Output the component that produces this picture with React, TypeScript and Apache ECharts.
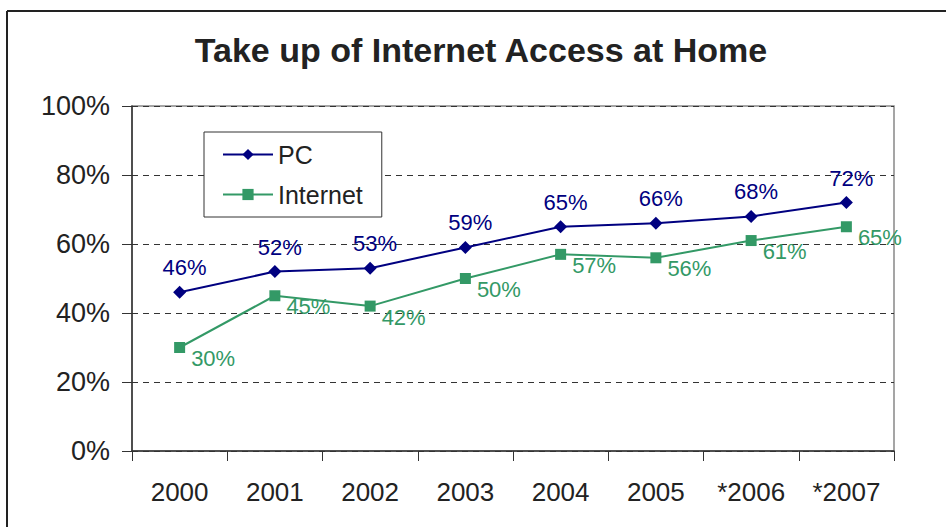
import React, { useEffect, useRef } from "react";
import * as echarts from "echarts";

const categories = ["2000", "2001", "2002", "2003", "2004", "2005", "*2006", "*2007"];
const pcValues = [46, 52, 53, 59, 65, 66, 68, 72];
const internetValues = [30, 45, 42, 50, 57, 56, 61, 65];
const yTicks = [0, 20, 40, 60, 80, 100];

const FONT = "'Liberation Sans', Arial, sans-serif";
const PC_COLOR = "#000080";
const NET_COLOR = "#339966";
const TEXT = "#222222";

export default function App() {
  const ref = useRef<HTMLDivElement>(null);
  useEffect(() => {
    document.body.style.margin = "0";
    const chart = echarts.init(ref.current!, null, { renderer: "svg" });
    chart.setOption({
      animation: false,
      backgroundColor: "#ffffff",
      title: {
        text: "Take up of Internet Access at Home",
        left: 476,
        textAlign: "center",
        top: 28,
        textStyle: { fontFamily: FONT, fontSize: 34, fontWeight: "bold", color: TEXT },
      },
      graphic: [
        { type: "line", shape: { x1: 7, y1: 11, x2: 946, y2: 11 }, style: { stroke: "#222", lineWidth: 2 } },
        { type: "line", shape: { x1: 7, y1: 11, x2: 7, y2: 527 }, style: { stroke: "#222", lineWidth: 2 } },
      ],
      legend: {
        orient: "vertical",
        left: 204,
        top: 132,
        padding: [10, 19, 10, 18],
        itemGap: 15,
        itemWidth: 50,
        itemHeight: 14,
        borderColor: "#333",
        borderWidth: 1,
        backgroundColor: "#fff",
        textStyle: { fontFamily: FONT, fontSize: 25, color: TEXT },
        data: ["PC", "Internet"],
      },
      grid: {
        left: 132,
        right: 52,
        top: 106,
        bottom: 76,
        show: true,
        borderColor: "#888",
        borderWidth: 1.5,
      },
      xAxis: {
        type: "category",
        data: categories,
        boundaryGap: true,
        axisLine: { lineStyle: { color: "#333", width: 1.5 } },
        axisTick: { show: true, length: 10, inside: false, lineStyle: { color: "#333" } },
        axisLabel: { fontFamily: FONT, fontSize: 26, color: TEXT, margin: 28 },
      },
      yAxis: {
        type: "value",
        min: 0,
        max: 100,
        interval: 20,
        axisLine: { show: true, lineStyle: { color: "#333", width: 1.5 } },
        axisTick: { show: true, length: 10, lineStyle: { color: "#333" } },
        axisLabel: {
          fontFamily: FONT,
          fontSize: 27,
          color: TEXT,
          margin: 22,
          formatter: (v: number) => (yTicks.includes(v) ? v + "%" : ""),
        },
        splitLine: { show: true, lineStyle: { color: "#333", type: [6, 5], width: 1 } },
      },
      series: [
        {
          name: "PC",
          type: "line",
          data: pcValues,
          symbol: "diamond",
          symbolSize: 13,
          itemStyle: { color: PC_COLOR },
          lineStyle: { color: PC_COLOR, width: 2 },
          label: {
            show: true,
            position: "top",
            distance: 7,
            offset: [5, 0],
            formatter: "{c}%",
            fontFamily: FONT,
            fontSize: 22,
            color: PC_COLOR,
          },
          z: 3,
        },
        {
          name: "Internet",
          type: "line",
          data: internetValues,
          symbol: "rect",
          symbolSize: 11,
          itemStyle: { color: NET_COLOR },
          lineStyle: { color: NET_COLOR, width: 2 },
          label: {
            show: true,
            position: "right",
            distance: 6,
            offset: [0, 11],
            formatter: "{c}%",
            fontFamily: FONT,
            fontSize: 22,
            color: NET_COLOR,
          },
          z: 2,
        },
      ],
    });
    return () => chart.dispose();
  }, []);
  return <div ref={ref} style={{ width: 946, height: 527 }} />;
}
